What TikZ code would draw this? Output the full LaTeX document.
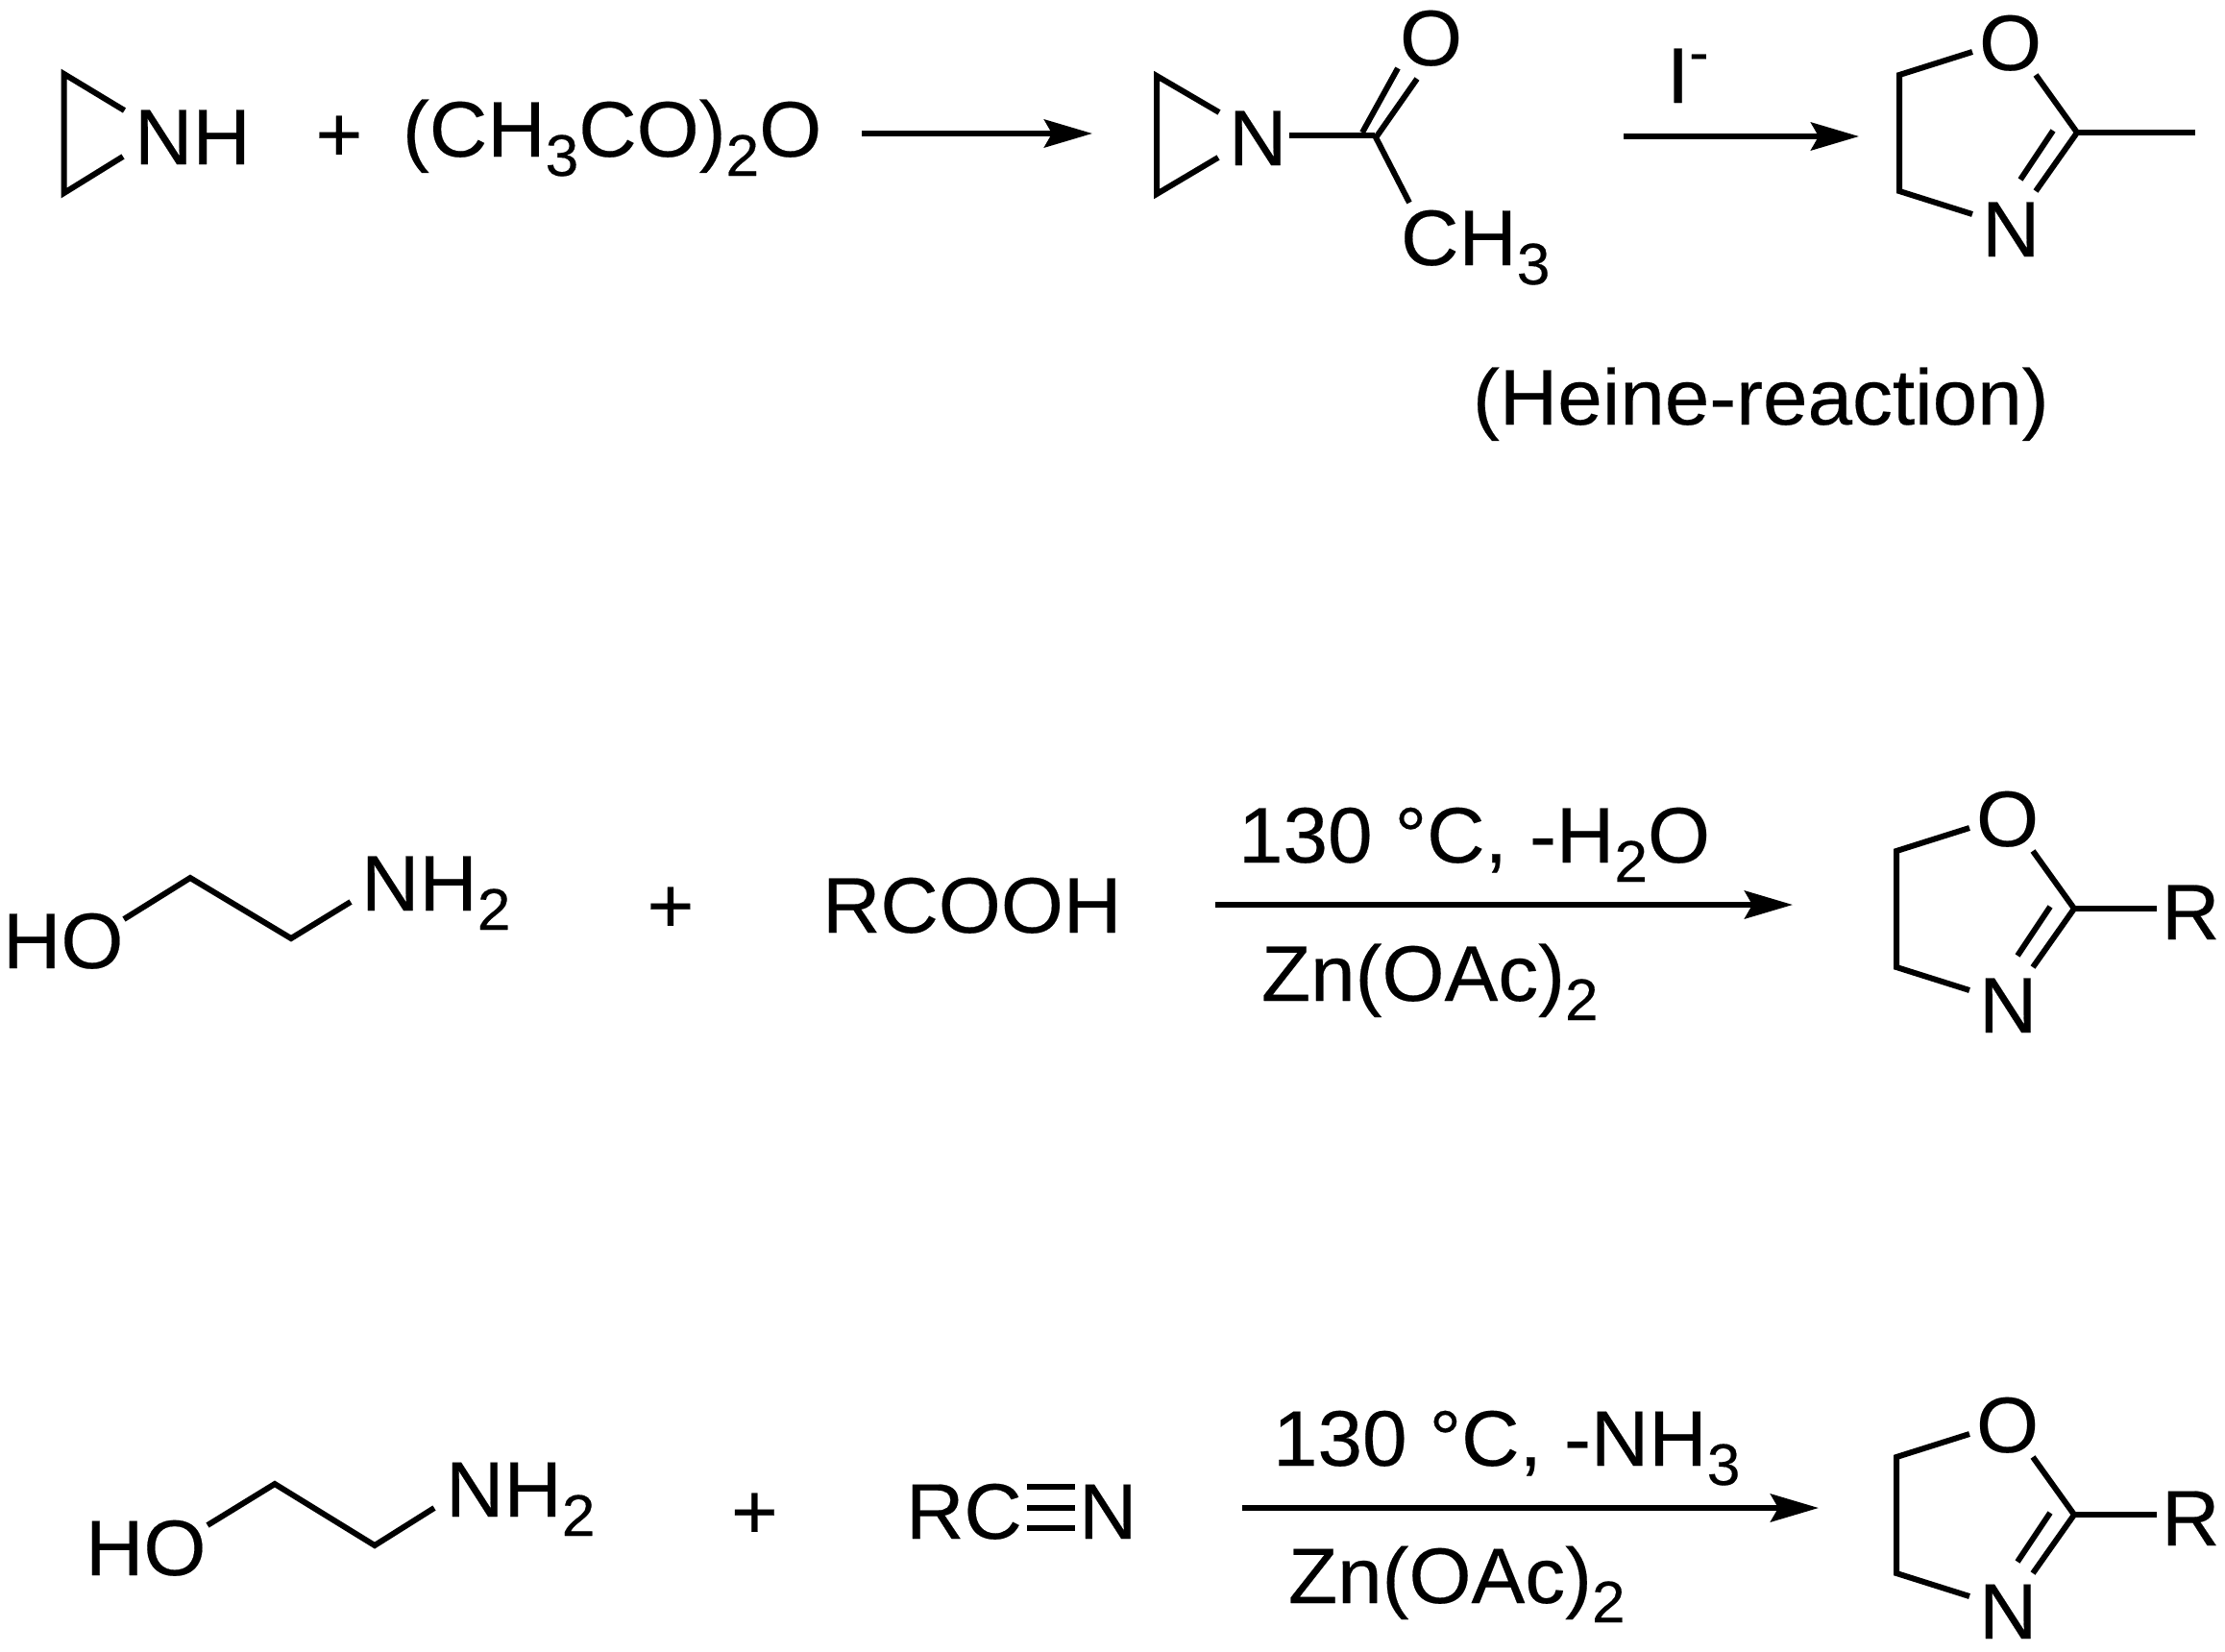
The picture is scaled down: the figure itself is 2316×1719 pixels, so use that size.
\documentclass[tikz,border=0pt]{standalone}
\usepackage{fontspec}
\setmainfont[FakeBold=0.25,FakeStretch=1.02]{Liberation Sans}
\usetikzlibrary{arrows.meta}
\newcommand{\chemsub}[1]{\raisebox{-10pt}{\fontsize{30.5}{32}\selectfont #1}}
\newcommand{\chemsup}[1]{\raisebox{16pt}{\fontsize{30}{30}\selectfont #1}}
% oxazoline ring: prefix, dx, dy
\newcommand{\oxazoline}[3]{%
  \begin{scope}[shift={(#2,#3)}]
    \node[chemtext] (#1O) at (2057,881) {O};
    \node[chemtext] (#1N) at (2060,1075) {N};
    \coordinate (#1a) at (2050,862);
    \coordinate (#1b) at (1974,886);
    \coordinate (#1c) at (1974,1007);
    \coordinate (#1d) at (2050,1031);
    \coordinate (#1e) at (2159,946);
    \coordinate (#1f) at (2116,886);
    \coordinate (#1g) at (2116,1007);
    \coordinate (#1h) at (2134,944);
    \coordinate (#1i) at (2100,995);
    \draw[bond] (#1a) -- (#1b) -- (#1c) -- (#1d);
    \draw[bond] (#1f) -- (#1e) -- (#1g);
    \draw[bond] (#1h) -- (#1i);
  \end{scope}}
\tikzset{
  chemtext/.style={inner sep=0pt, outer sep=0pt, anchor=base west, font=\fontsize{41}{48}\selectfont},
  bond/.style={line width=3pt, black},
  rxnarrow/.style={line width=3pt, black, -{Stealth[length=25pt,width=14.5pt,inset=4pt]}}
}
\begin{document}
\begin{tikzpicture}[x=0.5pt,y=-0.5pt]
\useasboundingbox (0,0) rectangle (2316,1719);
\fill[white] (0,0) rectangle (2316,1719);
% --- row 1
\node[chemtext] (nh) at (140,171) {NH};
\coordinate (t1a) at (129.5,115);
\coordinate (t1b) at (66.6,77);
\coordinate (t1c) at (66.6,201);
\coordinate (t1d) at (128,163);
\draw[bond] (t1a) -- (t1b) -- (t1c) -- (t1d);
\node[chemtext] (plusa) at (328.5,168) {+};
\node[chemtext] (anh) at (419,163) {(CH\chemsub{3}CO)\chemsub{2}O};
\coordinate (a1s) at (897,139);
\coordinate (a1e) at (1137,139);
\draw[rxnarrow] (a1s) -- (a1e);
\node[chemtext] (acN) at (1279,172) {N};
\coordinate (t2a) at (1269,117);
\coordinate (t2b) at (1204,79);
\coordinate (t2c) at (1204,202);
\coordinate (t2d) at (1268,164);
\draw[bond] (t2a) -- (t2b) -- (t2c) -- (t2d);
\node[chemtext] (acO) at (1457,68) {O};
\node[chemtext] (acC) at (1458,276) {CH\chemsub{3}};
\coordinate (cn) at (1342,141);
\coordinate (cc) at (1431,141);
\coordinate (cm) at (1467,211);
\coordinate (do1a) at (1418,138);
\coordinate (do1b) at (1455,71);
\coordinate (do2a) at (1433,142);
\coordinate (do2b) at (1475,82);
\draw[bond] (cn) -- (cc);
\draw[bond] (cc) -- (cm);
\draw[bond] (do1a) -- (do1b);
\draw[bond] (do2a) -- (do2b);
\node[chemtext] (iod) at (1735,107) {I\chemsup{-}};
\coordinate (a2s) at (1690,142);
\coordinate (a2e) at (1935,142);
\draw[rxnarrow] (a2s) -- (a2e);
\oxazoline{ra}{3}{-808}
\coordinate (rame) at (2285,138);
\draw[bond] (rae) -- (rame);
\node[chemtext] (heine) at (1533,442) {(Heine-reaction)};
% --- row 2
\node[chemtext] (hob) at (3,1008) {HO};
\node[chemtext] (nhb) at (376,948) {NH\chemsub{2}};
\coordinate (b1) at (129,957);
\coordinate (b2) at (198,914);
\coordinate (b3) at (303,977);
\coordinate (b4) at (365,939);
\draw[bond] (b1) -- (b2) -- (b3) -- (b4);
\node[chemtext] (plusb) at (673.5,971) {+};
\node[chemtext] (rcooh) at (856,971) {RCOOH};
\node[chemtext] (condb) at (1289,898) {130 °C, -H\chemsub{2}O};
\coordinate (a3s) at (1265,942);
\coordinate (a3e) at (1866,942);
\draw[rxnarrow] (a3s) -- (a3e);
\node[chemtext] (znb) at (1313,1042) {Zn(OAc)\chemsub{2}};
\oxazoline{rb}{0}{0}
\node[chemtext] (rbR) at (2250,978) {R};
\coordinate (rbx) at (2245,946);
\draw[bond] (rbe) -- (rbx);
% --- row 3
\node[chemtext] (hoc) at (89,1640) {HO};
\node[chemtext] (nhc) at (464,1579) {NH\chemsub{2}};
\coordinate (c1) at (216,1588);
\coordinate (c2) at (286,1545);
\coordinate (c3) at (390,1609);
\coordinate (c4) at (452,1570);
\draw[bond] (c1) -- (c2) -- (c3) -- (c4);
\node[chemtext] (plusc) at (761,1602) {+};
\node[chemtext] (rc) at (943,1602) {RC};
\node[chemtext] (nc) at (1123,1602) {N};
\coordinate (t1l) at (1069,1548);
\coordinate (t1r) at (1119,1548);
\coordinate (t2l) at (1069,1570);
\coordinate (t2r) at (1119,1570);
\coordinate (t3l) at (1069,1591);
\coordinate (t3r) at (1119,1591);
\draw[bond] (t1l) -- (t1r);
\draw[bond] (t2l) -- (t2r);
\draw[bond] (t3l) -- (t3r);
\node[chemtext] (condc) at (1325,1526) {130 °C, -NH\chemsub{3}};
\coordinate (a4s) at (1293,1570);
\coordinate (a4e) at (1893,1570);
\draw[rxnarrow] (a4s) -- (a4e);
\node[chemtext] (znc) at (1341,1669) {Zn(OAc)\chemsub{2}};
\oxazoline{rc}{0}{631}
\node[chemtext] (rcR) at (2250,1609) {R};
\coordinate (rcx) at (2245,1577);
\draw[bond] (rce) -- (rcx);
\end{tikzpicture}
\end{document}
